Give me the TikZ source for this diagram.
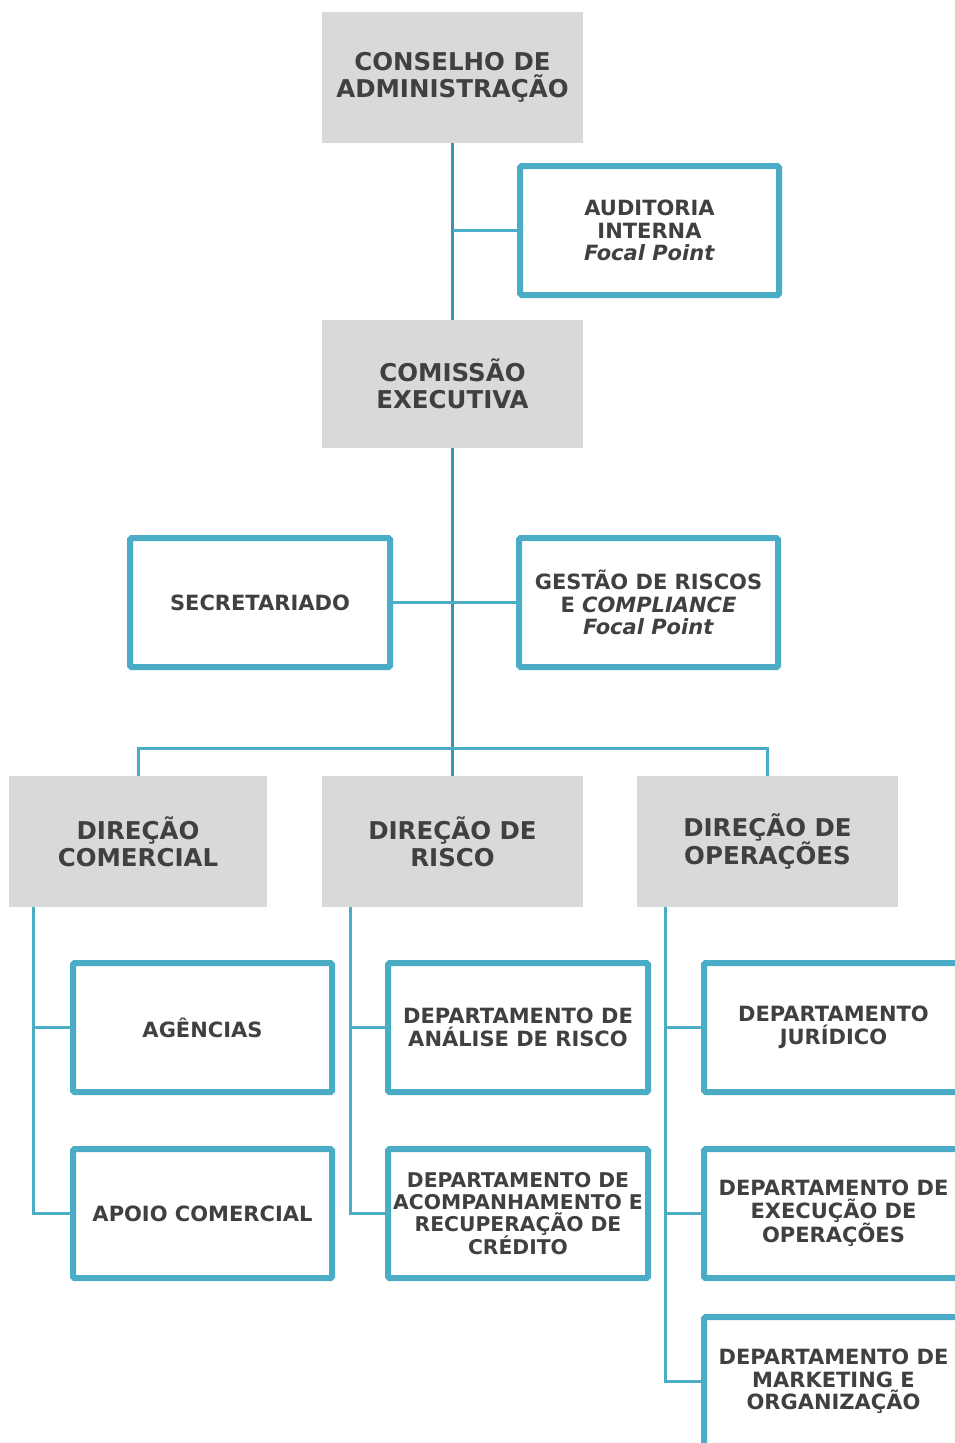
\documentclass[tikz,border=0pt]{standalone}
\usepackage{fontspec}
\setmainfont{DejaVu Sans}
\definecolor{boxblue}{HTML}{4BACC6}
\definecolor{trunk}{HTML}{3C93AB}
\definecolor{boxgray}{HTML}{D9D9D9}
\definecolor{txt}{HTML}{404040}
\begin{document}
\begin{tikzpicture}[x=1pt,y=-1pt,
  title/.style={fill=boxgray, inner sep=0pt, minimum width=261pt, minimum height=131pt,
    align=center, text=txt, font=\fontsize{24.5}{27}\selectfont\bfseries},
  unit/.style={draw=boxblue, line width=6pt, rounded corners=1.5pt, fill=white, inner sep=0pt,
    minimum width=259pt, minimum height=129pt, align=center, text=txt,
    font=\fontsize{21}{22.5}\selectfont\bfseries},
  trunkline/.style={draw=trunk, line width=3pt},
  link/.style={draw=boxblue, line width=3pt}]
\useasboundingbox (0,0) rectangle (955,1443);
\clip (0,0) rectangle (955,1443);

% connector anchor points
\coordinate (bus) at (452.5,748);
\coordinate (vc) at (33,907);
\coordinate (vr) at (350,907);
\coordinate (vo) at (665,907);

% gray title boxes
\node[title] (cons) at (452.5,77.5) {CONSELHO DE\\ADMINISTRAÇÃO};
\node[title, minimum height=128pt] (com) at (452.5,384) {COMISSÃO\\EXECUTIVA};
\node[title, minimum width=258pt] (dc) at (138,841.5) {DIREÇÃO\\COMERCIAL};
\node[title] (dr) at (452.5,841.5) {DIREÇÃO DE\\RISCO};
\node[title] (dop) at (767.5,841.5) {DIREÇÃO DE\\OPERAÇÕES};

% blue unit boxes
\node[unit] (aud) at (649.5,230.5) {AUDITORIA\\INTERNA\\\textit{Focal Point}};
\node[unit, minimum width=260pt] (sec) at (260,602.5) {SECRETARIADO};
\node[unit] (ges) at (648.5,602.5) {GESTÃO DE RISCOS\\E \textit{COMPLIANCE}\\\textit{Focal Point}};
\node[unit] (ag) at (202.5,1027.5) {AGÊNCIAS};
\node[unit] (ap) at (202.5,1213.5) {APOIO COMERCIAL};
\node[unit, minimum width=260pt] (an) at (518,1027.5) {DEPARTAMENTO DE\\ANÁLISE DE RISCO};
\node[unit, minimum width=260pt, font=\fontsize{20.3}{22}\selectfont\bfseries] (acomp) at (518,1213.5) {DEPARTAMENTO DE\\ACOMPANHAMENTO E\\RECUPERAÇÃO DE\\CRÉDITO};
\node[unit] (jur) at (833.5,1027.5) {DEPARTAMENTO\\JURÍDICO};
\node[unit] (exe) at (833.5,1213.5) {DEPARTAMENTO DE\\EXECUÇÃO DE\\OPERAÇÕES};
\node[unit] (mkt) at (833.5,1381.5) {DEPARTAMENTO DE\\MARKETING E\\ORGANIZAÇÃO};

% connectors
\draw[trunkline] (cons.south) -- (com.north);
\draw[link] (aud.west) -- (aud.west -| cons.south);
\draw[trunkline] (com.south) -- (dr.north);
\draw[link] (sec.east) -- (ges.west);
\draw[link] (dc.north) |- (bus) -| (dop.north);
\draw[link] (vc) |- (ap.west);
\draw[link] (vc |- ag.west) -- (ag.west);
\draw[link] (vr) |- (acomp.west);
\draw[link] (vr |- an.west) -- (an.west);
\draw[link] (vo) |- (mkt.west);
\draw[link] (vo |- jur.west) -- (jur.west);
\draw[link] (vo |- exe.west) -- (exe.west);
\end{tikzpicture}
\end{document}
